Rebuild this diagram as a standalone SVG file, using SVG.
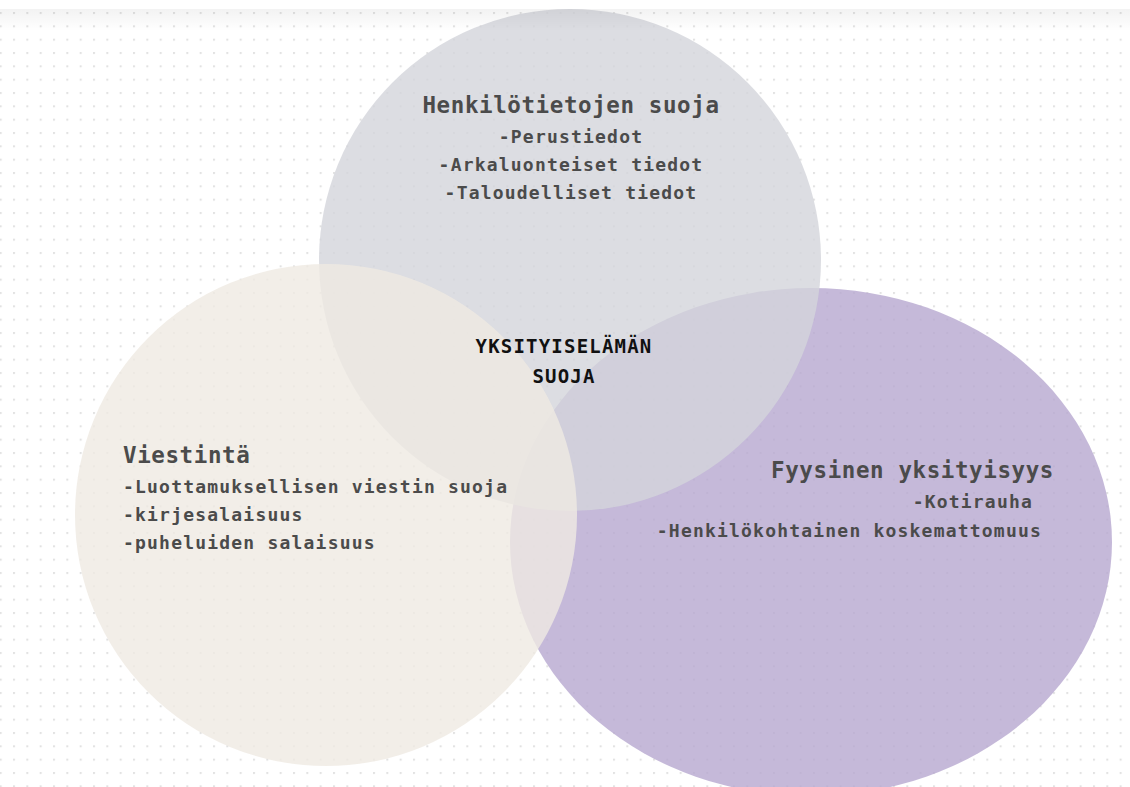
<svg xmlns="http://www.w3.org/2000/svg" width="1130" height="787" viewBox="0 0 1130 787">
  <defs>
    <pattern id="dots" patternUnits="userSpaceOnUse" x="13" y="12" width="13.333" height="13.333">
      <rect x="0" y="0" width="2" height="2" fill="#e2e2e2"/>
    </pattern>
    <linearGradient id="topShade" x1="0" y1="0" x2="0" y2="1">
      <stop offset="0" stop-color="#000" stop-opacity="0.05"/>
      <stop offset="1" stop-color="#000" stop-opacity="0"/>
    </linearGradient>
    <style>
      .t { font-family: "DejaVu Sans Mono", "Liberation Mono", monospace; font-weight: bold; fill: #4b4b4b; }
      .title { font-size: 22.5px; letter-spacing: 0.6px; }
      .item { font-size: 18px; letter-spacing: 1.2px; }
      .center { font-family: "DejaVu Sans Mono", "Liberation Mono", monospace; font-weight: bold; font-size: 19px; letter-spacing: 1.2px; fill: #111; }
      .blob { opacity: 0.8; }
    </style>
  </defs>
  <rect x="0" y="0" width="1130" height="787" fill="#ffffff"/>
  <rect x="0" y="9" width="1130" height="778" fill="url(#dots)"/>

  <g id="node-fyysinen">
    <ellipse class="blob" cx="811" cy="542" rx="301" ry="254" fill="#b6a8cf"/>
  </g>
  <g id="node-henkilotiedot">
    <circle class="blob" cx="570" cy="260" r="251" fill="#d3d4db"/>
  </g>
  <g id="node-viestinta">
    <circle class="blob" cx="326" cy="515" r="251" fill="#efeae2"/>
  </g>

  <rect x="0" y="0" width="1130" height="9" fill="#ffffff"/>
  <rect x="0" y="9" width="1130" height="22" fill="url(#topShade)"/>

  <g id="labels-henkilotiedot" text-anchor="middle">
    <text class="t title" x="571" y="113">Henkilötietojen suoja</text>
    <text class="t item" x="571" y="143">-Perustiedot</text>
    <text class="t item" x="571" y="171">-Arkaluonteiset tiedot</text>
    <text class="t item" x="571" y="199">-Taloudelliset tiedot</text>
  </g>
  <g id="labels-viestinta">
    <text class="t title" x="123" y="463">Viestintä</text>
    <text class="t item" x="123" y="493">-Luottamuksellisen viestin suoja</text>
    <text class="t item" x="123" y="521">-kirjesalaisuus</text>
    <text class="t item" x="123" y="549">-puheluiden salaisuus</text>
  </g>
  <g id="labels-fyysinen" text-anchor="end">
    <text class="t title" x="1054" y="478">Fyysinen yksityisyys</text>
    <text class="t item" x="1033" y="508">-Kotirauha</text>
    <text class="t item" x="1042" y="537">-Henkilökohtainen koskemattomuus</text>
  </g>
  <g id="node-center" text-anchor="middle">
    <text class="center" x="564" y="353">YKSITYISELÄMÄN</text>
    <text class="center" x="564" y="383">SUOJA</text>
  </g>
</svg>
